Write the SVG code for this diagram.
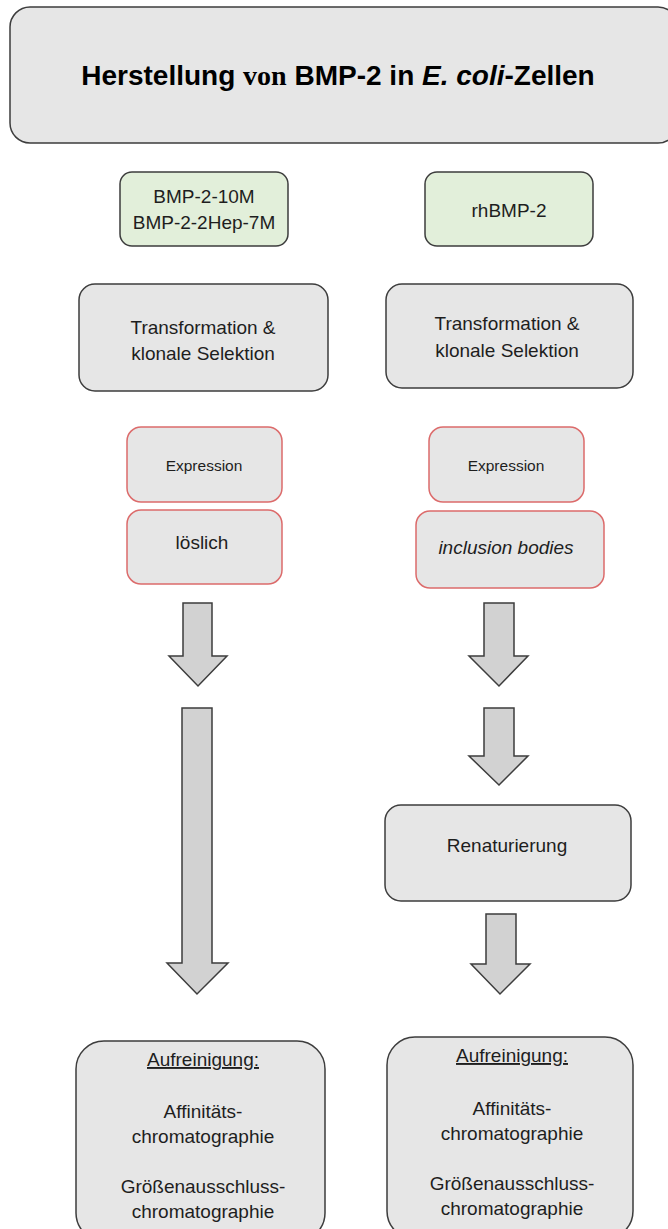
<svg xmlns="http://www.w3.org/2000/svg" width="668" height="1229" viewBox="0 0 668 1229">
  <style>
    .box { fill: #e6e6e6; stroke: #3d3d3d; stroke-width: 1.5; }
    .green { fill: #e2efda; stroke: #3d3d3d; stroke-width: 1.5; }
    .red { fill: #e6e6e6; stroke: #dc6b6b; stroke-width: 1.5; }
    .arrow { fill: #d2d2d2; stroke: #3d3d3d; stroke-width: 1.5; stroke-linejoin: miter; }
    text { font-family: "Liberation Sans", Arial, sans-serif; fill: #1e1e1e; text-anchor: middle; }
    .t19 { font-size: 19px; }
    .t15 { font-size: 15.5px; }
    .title { font-size: 28px; font-weight: bold; fill: #000; }
  </style>

  <rect width="668" height="1229" fill="#ffffff"/>

  <!-- header -->
  <g id="title">
    <rect class="box" x="10" y="7" width="668" height="136" rx="20"/>
    <text class="title" x="338" y="85">Herstellung <tspan font-family="'Liberation Serif', serif">von</tspan> BMP-2 in <tspan font-style="italic">E. coli</tspan>-Zellen</text>
  </g>

  <!-- left column -->
  <g id="constructs-left">
    <rect class="green" x="120" y="172" width="168" height="74" rx="12"/>
    <text class="t19" x="204" y="203" font-size="18.5">BMP-2-10M</text>
    <text class="t19" x="204" y="229" font-size="18.5">BMP-2-2Hep-7M</text>
  </g>
  <g id="transformation-left">
    <rect class="box" x="79" y="284" width="249" height="107" rx="16"/>
    <text class="t19" x="203" y="334">Transformation &amp;</text>
    <text class="t19" x="203" y="360">klonale Selektion</text>
  </g>
  <g id="expression-left">
    <rect class="red" x="127" y="427" width="155" height="75" rx="14"/>
    <text class="t15" x="204" y="471">Expression</text>
  </g>
  <g id="loeslich">
    <rect class="red" x="127" y="510" width="155" height="74" rx="14"/>
    <text class="t19" x="202" y="549">löslich</text>
  </g>
  <g id="purification-left">
    <rect class="box" x="76" y="1041" width="249" height="200" rx="28"/>
    <text class="t19" x="203" y="1066" text-decoration="underline">Aufreinigung:</text>
    <text class="t19" x="203" y="1118">Affinitäts-</text>
    <text class="t19" x="203" y="1143">chromatographie</text>
    <text class="t19" x="203" y="1193">Größenausschluss-</text>
    <text class="t19" x="203" y="1218">chromatographie</text>
  </g>

  <!-- right column -->
  <g id="constructs-right">
    <rect class="green" x="425" y="172" width="168" height="74" rx="12"/>
    <text class="t19" x="509" y="217" font-size="18.5">rhBMP-2</text>
  </g>
  <g id="transformation-right">
    <rect class="box" x="386" y="284" width="247" height="104" rx="16"/>
    <text class="t19" x="507" y="330">Transformation &amp;</text>
    <text class="t19" x="507" y="357">klonale Selektion</text>
  </g>
  <g id="expression-right">
    <rect class="red" x="429" y="427" width="155" height="75" rx="14"/>
    <text class="t15" x="506" y="471">Expression</text>
  </g>
  <g id="inclusion-bodies">
    <rect class="red" x="416" y="511" width="188" height="77" rx="14"/>
    <text class="t19" x="506" y="554" font-style="italic">inclusion bodies</text>
  </g>
  <g id="renaturierung">
    <rect class="box" x="385" y="805" width="246" height="96" rx="16"/>
    <text class="t19" x="507" y="852">Renaturierung</text>
  </g>
  <g id="purification-right">
    <rect class="box" x="387" y="1037" width="246" height="202" rx="28"/>
    <text class="t19" x="512" y="1062" text-decoration="underline">Aufreinigung:</text>
    <text class="t19" x="512" y="1115">Affinitäts-</text>
    <text class="t19" x="512" y="1140">chromatographie</text>
    <text class="t19" x="512" y="1190">Größenausschluss-</text>
    <text class="t19" x="512" y="1215">chromatographie</text>
  </g>

  <!-- block arrows -->
  <g id="connectors">
    <polygon class="arrow" points="183,603 212,603 212,656 227,656 198,686 169,656 183,656"/>
    <polygon class="arrow" points="182,708 212,708 212,963 228,963 197,994 167,963 182,963"/>
    <polygon class="arrow" points="484,603 514,603 514,656 528,656 499,686 469,656 484,656"/>
    <polygon class="arrow" points="484,708 514,708 514,756 528,756 499,785 469,756 484,756"/>
    <polygon class="arrow" points="486,914 516,914 516,964 530,964 500,994 471,964 486,964"/>
  </g>
</svg>
